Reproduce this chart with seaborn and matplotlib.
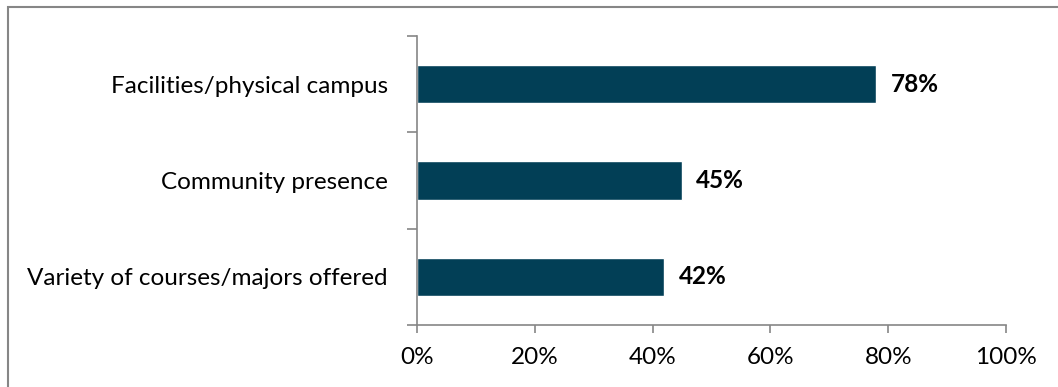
import matplotlib
matplotlib.use("Agg")
import matplotlib.pyplot as plt
import matplotlib.patches as mpatches
import seaborn as sns
import pandas as pd
from matplotlib.ticker import FixedLocator, PercentFormatter

categories = ["Facilities/physical campus", "Community presence", "Variety of courses/majors offered"]
values = [78, 45, 42]
x_ticks = [0, 20, 40, 60, 80, 100]

sns.set_theme(style="white")
plt.rcParams["font.family"] = ["Lato", "DejaVu Sans"]

df = pd.DataFrame({"category": categories, "value": values})

fig = plt.figure(figsize=(10.58, 3.87), dpi=100)
ax = fig.add_axes([417 / 1058, 1 - 325 / 387, (1006 - 417) / 1058, (325 - 36) / 387])

bar_color = "#023F56"
sns.barplot(data=df, x="value", y="category", ax=ax, color=bar_color,
            width=0.4, orient="h", saturation=1)

ax.set_xlim(0, 100)
ax.set_ylim(2.5, -0.5)
ax.set_xlabel("")
ax.set_ylabel("")

font_size = 17.5
spine_color = "#868686"
for side in ["top", "right"]:
    ax.spines[side].set_visible(False)
for side in ["left", "bottom"]:
    ax.spines[side].set_color(spine_color)
    ax.spines[side].set_linewidth(1.2)

ax.xaxis.set_major_locator(FixedLocator(x_ticks))
ax.xaxis.set_major_formatter(PercentFormatter(decimals=0))
ax.tick_params(axis="x", which="major", direction="out", length=6, width=1.2,
               color=spine_color, labelsize=font_size, labelcolor="black", pad=10, bottom=True)

# category boundaries carry the y tick marks; labels sit at category centres
ax.yaxis.set_major_locator(FixedLocator([-0.5, 0.5, 1.5, 2.5]))
ax.yaxis.set_major_formatter(plt.NullFormatter())
ax.yaxis.set_minor_locator(FixedLocator([0, 1, 2]))
ax.set_yticklabels(categories, minor=True)
ax.tick_params(axis="y", which="major", direction="out", length=7, width=1.2,
               color=spine_color, left=True)
ax.tick_params(axis="y", which="minor", length=0, labelsize=font_size,
               labelcolor="black", pad=21)

for i, v in enumerate(values):
    ax.text(v + 2.4, i, f"{v}%", va="center", ha="left", fontsize=font_size,
            fontweight="bold", color="black")

ax.grid(False)

# chart frame
fig.patches.append(mpatches.Rectangle((8 / 1058, -0.1), 1.2, 1 - 7 / 387 + 0.1,
                                      transform=fig.transFigure, fill=False,
                                      edgecolor="#868686", linewidth=1.5))

fig.savefig("out.png", dpi=100, facecolor="white")
